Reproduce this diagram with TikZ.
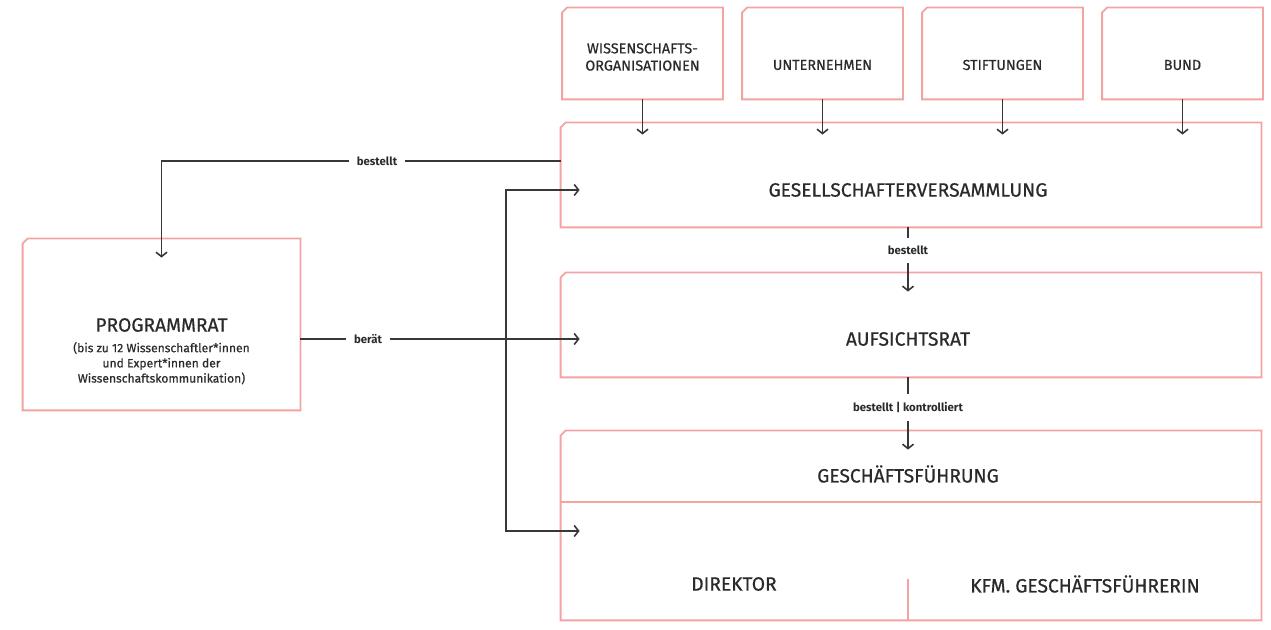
\documentclass[tikz,border=0pt]{standalone}
\usepackage{fontspec}
\setmainfont{Fira Sans}
\newfontfamily\mittel{Fira Sans}[FakeBold=0.6]
\usetikzlibrary{arrows.meta,calc}

\begin{document}
\begin{tikzpicture}[x=0.5pt,y=-0.5pt,
  box/.style={rectangle, inner sep=0pt},
  rand/.style={draw=rahmen, line width=0.9pt, line join=miter},
  titel/.style={text=schrift, font=\mittel\fontsize{9.6}{11}\selectfont},
  klein/.style={text=schrift, font=\mittel\fontsize{7.2}{8.6}\selectfont, align=center},
  pfeil/.style={draw=linie, line width=0.8pt, -{Straight Barb[length=2.2pt,width=5.5pt]}},
  marke/.style={fill=white, inner sep=4pt, text=schrift, font=\bfseries\fontsize{5.7}{6}\selectfont}]
\definecolor{rahmen}{HTML}{F4A3A3}
\definecolor{linie}{HTML}{383838}
\definecolor{schrift}{HTML}{2A2A2A}
\useasboundingbox (0,0) rectangle (1271,630);

% Gesellschafter
\node[box, minimum width=80pt, minimum height=45.5pt] (wiss) at (642.5,53.5) {};
\node[box, minimum width=80pt, minimum height=45.5pt] (untern) at (822.5,53.5) {};
\node[box, minimum width=80pt, minimum height=45.5pt] (stift) at (1002.5,53.5) {};
\node[box, minimum width=80pt, minimum height=45.5pt] (bund) at (1182.5,53.5) {};
\node[klein] (wiss-t) at (642.5,57) {WISSENSCHAFTS-\\ORGANISATIONEN};
\node[klein] (untern-t) at (822.5,65) {UNTERNEHMEN};
\node[klein] (stift-t) at (1002.5,65) {STIFTUNGEN};
\node[klein] (bund-t) at (1182.5,65) {BUND};

% Gremien
\node[box, minimum width=350pt, minimum height=52pt] (gv) at (911,175) {};
\node[box, minimum width=350pt, minimum height=52pt] (ar) at (911,325) {};
\node[box, minimum width=350pt, minimum height=94.5pt] (gf) at (911,525.5) {};
\node[box, minimum width=138.5pt, minimum height=85.5pt] (prat) at (161.5,324.5) {};

% Rahmen mit schraeger Ecke
\foreach \n in {wiss,untern,stift,bund,gv,ar,gf,prat}
  \draw[rand] ($(\n.north west)+(0,5)$) -- ($(\n.north west)+(5,0)$) -- (\n.north east)
    -- (\n.south east) -- (\n.south west) -- cycle;
\draw[rand] (gf.west |- 0,502) -- (gf.east |- 0,502);
\draw[rand] (908,579) -- (908,579 |- gf.south);

\node[titel] (gv-t) at (908,190) {GESELLSCHAFTERVERSAMMLUNG};
\node[titel] (ar-t) at (908,339) {AUFSICHTSRAT};
\node[titel] (gf-t) at (908,474) {GESCHÄFTSFÜHRUNG};
\node[titel] (dir-t) at (734,584) {DIREKTOR};
\node[titel] (kfm-t) at (1085,584) {KFM. GESCHÄFTSFÜHRERIN};
\node[titel] (prat-t) at (161.5,325) {PROGRAMMRAT};
\node[klein, font=\mittel\fontsize{6.05}{7.6}\selectfont, anchor=north, yshift=2pt] (prat-s) at (prat-t.south)
  {(bis zu 12 Wissenschaftler*innen\\und Expert*innen der\\Wissenschaftskommunikation)};

% Pfeile
\coordinate (gv-in) at ($(gv.west |- gv-t)+(19,0)$);
\coordinate (ar-in) at ($(ar.west |- ar-t)+(19,0)$);
\coordinate (gf-in) at ($(gf.west)+(19,5.5)$);
\coordinate (vt) at (506,0);
\foreach \n in {wiss,untern,stift,bund}
  \draw[pfeil] (\n.south) -- ($(\n.south |- gv.north)+(0,12)$);
\draw[pfeil] ($(gv.west)+(0,-14)$) -| ($(prat.north)+(0,19)$) node[marke, pos=0.23] {bestellt};
\draw[pfeil] (prat.east |- ar-in) -- (ar-in) node[marke, pos=0.242] {berät};
\draw[pfeil, {Straight Barb[length=2.2pt,width=5.5pt]}-{Straight Barb[length=2.2pt,width=5.5pt]}]
  (gv-in) -| (vt |- gf-in) -- (gf-in);
\draw[pfeil] (gv-t |- gv.south) -- ($(gv-t |- ar.north)+(0,19)$) node[marke, pos=0.36] {bestellt};
\draw[pfeil] (ar-t |- ar.south) -- ($(ar-t |- gf.north)+(0,19)$) node[marke, pos=0.42] {bestellt | kontrolliert};
\end{tikzpicture}
\end{document}
